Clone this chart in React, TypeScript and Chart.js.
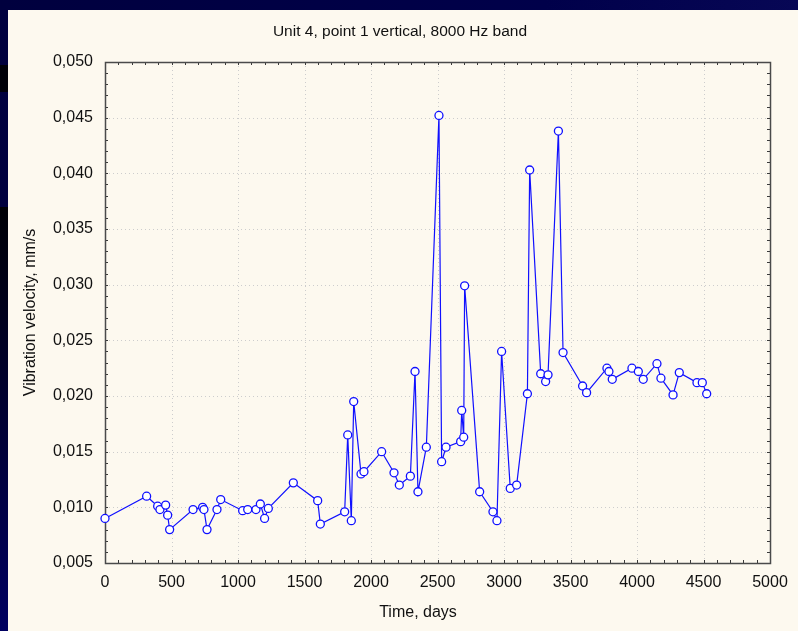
import React, { useEffect, useRef } from "react";
import { Chart, registerables } from "chart.js";

Chart.register(...registerables);

const chartTitle = "Unit 4, point 1 vertical, 8000 Hz band";
const xAxisTitle = "Time, days";
const yAxisTitle = "Vibration velocity, mm/s";

const days = [
  0, 313, 396, 413, 456, 471, 486, 662, 734, 744, 767, 842, 870, 1035, 1073, 1135, 1168, 1200, 1228,
  1416, 1599, 1619, 1802, 1825, 1852, 1870, 1925, 1947, 2080, 2173, 2213, 2296, 2331, 2353, 2416,
  2511, 2531, 2564, 2674, 2682, 2697, 2704, 2817, 2917, 2947, 2982, 3047, 3095, 3176, 3193, 3276,
  3313, 3331, 3409, 3444, 3591, 3621, 3774, 3789, 3814, 3962, 4010, 4047, 4150, 4180, 4271, 4318,
  4451, 4491, 4524,
];

const velocity = [
  0.009, 0.011, 0.0101, 0.0098, 0.0102, 0.0093, 0.008, 0.0098, 0.01, 0.0098, 0.008, 0.0098, 0.0107,
  0.0097, 0.0098, 0.0098, 0.0103, 0.009, 0.0099, 0.0122, 0.0106, 0.0085, 0.0096, 0.0165, 0.0088,
  0.0195, 0.013, 0.0132, 0.015, 0.0131, 0.012, 0.0128, 0.0222, 0.0114, 0.0154, 0.0452, 0.0141,
  0.0154, 0.0159, 0.0187, 0.0163, 0.0299, 0.0114, 0.0096, 0.0088, 0.024, 0.0117, 0.012, 0.0202,
  0.0403, 0.022, 0.0213, 0.0219, 0.0438, 0.0239, 0.0209, 0.0203, 0.0225, 0.0222, 0.0215, 0.0225,
  0.0222, 0.0215, 0.0229, 0.0216, 0.0201, 0.0221, 0.0212, 0.0212, 0.0202,
];

const xTickValues = [0, 500, 1000, 1500, 2000, 2500, 3000, 3500, 4000, 4500, 5000];
const yTickValues = [0.005, 0.01, 0.015, 0.02, 0.025, 0.03, 0.035, 0.04, 0.045, 0.05];
const xMinorStep = 100;
const yMinorStep = 0.001;

const FONT = "'Liberation Sans', Arial, Helvetica, sans-serif";

const framePlugin = {
  id: "framePlugin",
  beforeDatasetsDraw(chart: any) {
    const { ctx, chartArea: a, scales } = chart;
    const xs = scales.x;
    const ys = scales.y;
    ctx.save();
    // dotted grid
    ctx.strokeStyle = "#cdcdcd";
    ctx.lineWidth = 1;
    ctx.setLineDash([1, 3]);
    for (const v of xTickValues) {
      const px = Math.round(xs.getPixelForValue(v)) + 0.5;
      if (px <= a.left + 2 || px >= a.right - 2) continue;
      ctx.beginPath();
      ctx.moveTo(px, a.top);
      ctx.lineTo(px, a.bottom);
      ctx.stroke();
    }
    for (const v of yTickValues) {
      const py = Math.round(ys.getPixelForValue(v)) + 0.5;
      if (py <= a.top + 2 || py >= a.bottom - 2) continue;
      ctx.beginPath();
      ctx.moveTo(a.left, py);
      ctx.lineTo(a.right, py);
      ctx.stroke();
    }
    ctx.setLineDash([]);
    // inward ticks on all four sides
    ctx.strokeStyle = "#3a3a3a";
    ctx.lineWidth = 1;
    const tl = 3;
    for (let v = xs.min; v <= xs.max + 1e-9; v += xMinorStep) {
      const px = Math.round(xs.getPixelForValue(v)) + 0.5;
      ctx.beginPath();
      ctx.moveTo(px, a.bottom);
      ctx.lineTo(px, a.bottom - tl);
      ctx.moveTo(px, a.top);
      ctx.lineTo(px, a.top + tl);
      ctx.stroke();
    }
    const nY = Math.round((ys.max - ys.min) / yMinorStep);
    for (let i = 0; i <= nY; i++) {
      const v = ys.min + i * yMinorStep;
      const py = Math.round(ys.getPixelForValue(v)) + 0.5;
      ctx.beginPath();
      ctx.moveTo(a.left, py);
      ctx.lineTo(a.left + tl, py);
      ctx.moveTo(a.right, py);
      ctx.lineTo(a.right - tl, py);
      ctx.stroke();
    }
    // frame
    ctx.strokeStyle = "#4a4a4a";
    ctx.lineWidth = 1.5;
    ctx.strokeRect(Math.round(a.left) + 0.5, Math.round(a.top) + 0.5, Math.round(a.right - a.left), Math.round(a.bottom - a.top));
    ctx.restore();
  },
  afterDraw(chart: any) {
    const { ctx, chartArea: a } = chart;
    ctx.save();
    ctx.fillStyle = "#111";
    ctx.textAlign = "center";
    ctx.textBaseline = "middle";
    ctx.font = `15.5px ${FONT}`;
    ctx.fillText(chartTitle, 392, 22);
    ctx.font = `16px ${FONT}`;
    ctx.fillText(xAxisTitle, 410, 603);
    ctx.translate(23, (a.top + a.bottom) / 2);
    ctx.rotate(-Math.PI / 2);
    ctx.fillText(yAxisTitle, 0, 0);
    ctx.restore();
  },
};

export default function App() {
  const canvasRef = useRef<HTMLCanvasElement | null>(null);

  useEffect(() => {
    if (!canvasRef.current) return;
    const points = days.map((d, i) => ({ x: d, y: velocity[i] }));
    const chart = new Chart(canvasRef.current, {
      type: "line",
      data: {
        datasets: [
          {
            data: points,
            borderColor: "#1010ff",
            borderWidth: 1.2,
            pointRadius: 4,
            pointHoverRadius: 4,
            pointBackgroundColor: "#ffffff",
            pointBorderColor: "#1010ff",
            pointBorderWidth: 1.3,
            tension: 0,
            clip: false as any,
          },
        ],
      },
      options: {
        animation: false,
        responsive: false,
        maintainAspectRatio: false,
        events: [],
        layout: { padding: { top: 52, right: 28, bottom: 0, left: 0 } },
        plugins: { legend: { display: false }, tooltip: { enabled: false }, title: { display: false } },
        scales: {
          x: {
            type: "linear",
            min: 0,
            max: 5000,
            grid: { display: false },
            border: { display: false },
            afterBuildTicks: (axis: any) => {
              axis.ticks = xTickValues.map((v) => ({ value: v }));
            },
            afterFit: (axis: any) => {
              axis.height = 68;
            },
            ticks: {
              autoSkip: false,
              maxRotation: 0,
              padding: 2,
              color: "#111",
              font: { family: FONT, size: 16 },
              callback: (v: any) => String(v),
            },
          },
          y: {
            type: "linear",
            min: 0.005,
            max: 0.05,
            grid: { display: false },
            border: { display: false },
            afterBuildTicks: (axis: any) => {
              axis.ticks = yTickValues.map((v) => ({ value: v }));
            },
            afterFit: (axis: any) => {
              axis.width = 97;
            },
            ticks: {
              autoSkip: false,
              padding: 4,
              color: "#111",
              font: { family: FONT, size: 16 },
              callback: (v: any) => Number(v).toFixed(3).replace(".", ","),
            },
          },
        },
      },
      plugins: [framePlugin],
    });
    return () => chart.destroy();
  }, []);

  return (
    <div
      style={{
        position: "absolute",
        left: 0,
        top: 0,
        width: 798,
        height: 631,
        overflow: "hidden",
        background: "linear-gradient(100deg, #00003e 0%, #00004a 60%, #0a0a5a 100%)",
      }}
    >
      <div
        style={{
          position: "absolute",
          left: 0,
          top: 65,
          width: 8,
          height: 27,
          background: "#000008",
        }}
      />
      <div
        style={{
          position: "absolute",
          left: 0,
          top: 207,
          width: 8,
          height: 424,
          background: "linear-gradient(180deg, #000005 0%, #00002a 40%, #000060 100%)",
        }}
      />
      <div
        style={{
          position: "absolute",
          left: 8,
          top: 10,
          width: 790,
          height: 621,
          background: "#fdf9ef",
        }}
      >
        <canvas ref={canvasRef} width={790} height={621} style={{ display: "block", width: 790, height: 621 }} />
      </div>
    </div>
  );
}
